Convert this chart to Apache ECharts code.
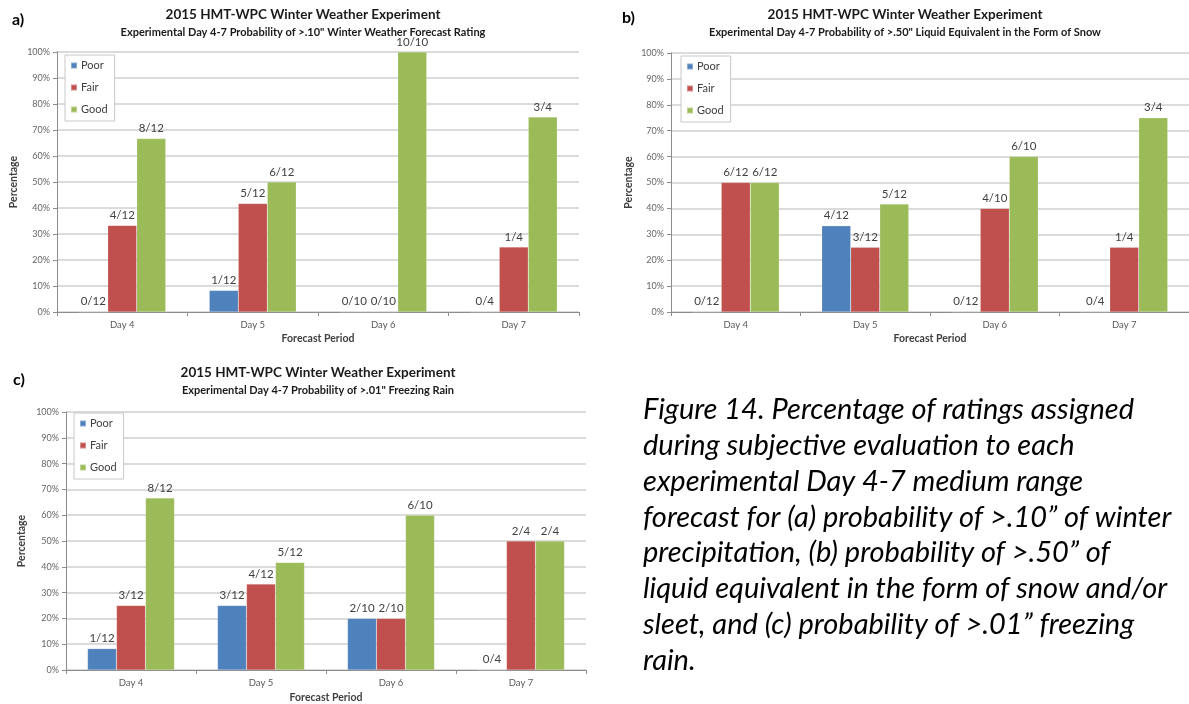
<!DOCTYPE html>
<html><head><meta charset="utf-8">
<script src="https://cdn.jsdelivr.net/npm/echarts@6/dist/echarts.min.js"></script>
<style>html,body{margin:0;padding:0;background:#fff}#c{width:1189px;height:704px}</style>
</head><body><div id="c"></div>
<script>
// ---- data ----
const categories = ['Day 4', 'Day 5', 'Day 6', 'Day 7'];
const seriesNames = ['Poor', 'Fair', 'Good'];

// panel a: >.10" winter weather
const aPoor = [0, 8.3, 0, 0];
const aFair = [33.3, 41.7, 0, 25];
const aGood = [66.7, 50, 100, 75];
const aPoorLbl = ['0/12', '1/12', '0/10', '0/4'];
const aFairLbl = ['4/12', '5/12', '0/10', '1/4'];
const aGoodLbl = ['8/12', '6/12', '10/10', '3/4'];

// panel b: >.50" liquid equivalent snow
const bPoor = [0, 33.3, 0, 0];
const bFair = [50, 25, 40, 25];
const bGood = [50, 41.7, 60, 75];
const bPoorLbl = ['0/12', '4/12', '0/12', '0/4'];
const bFairLbl = ['6/12', '3/12', '4/10', '1/4'];
const bGoodLbl = ['6/12', '5/12', '6/10', '3/4'];

// panel c: >.01" freezing rain
const cPoor = [8.3, 25, 20, 0];
const cFair = [25, 33.3, 20, 50];
const cGood = [66.7, 41.7, 60, 50];
const cPoorLbl = ['1/12', '3/12', '2/10', '0/4'];
const cFairLbl = ['3/12', '4/12', '2/10', '2/4'];
const cGoodLbl = ['8/12', '5/12', '6/10', '2/4'];

const mainTitle = '2015 HMT-WPC Winter Weather Experiment';
const subTitles = [
  'Experimental Day 4-7 Probability of >.10" Winter Weather Forecast Rating',
  'Experimental Day 4-7 Probability of >.50" Liquid Equivalent in the Form of Snow',
  'Experimental Day 4-7 Probability of >.01" Freezing Rain'
];
const panelTags = ['a)', 'b)', 'c)'];
const xName = 'Forecast Period';
const yName = 'Percentage';
const captionLines = [
  'Figure 14. Percentage of ratings assigned',
  'during subjective evaluation to each',
  'experimental Day 4-7 medium range',
  'forecast for (a) probability of >.10\u201d of winter',
  'precipitation, (b) probability of >.50\u201d of',
  'liquid equivalent in the form of snow and/or',
  'sleet, and (c) probability of >.01\u201d freezing',
  'rain.'
];

// ---- styling ----
const FONT = 'Lato';
const COLORS = ['#4F81BD', '#C0504D', '#9BBB59'];
const grids = [
  {left: 57, top: 52, width: 522, height: 260},
  {left: 671, top: 53, width: 524, height: 259},
  {left: 66, top: 412, width: 520, height: 258}
];
const yNameGaps = [38, 37, 39];
const xNameGaps = [21, 21, 22];
const legendPos = [{left: 65, top: 55}, {left: 681, top: 56}, {left: 74, top: 413}];
const titlePos = [{x: 303, y: 15}, {x: 905, y: 15}, {x: 318, y: 373}];
const tagPos = [{x: 12, y: 20}, {x: 622, y: 18}, {x: 13, y: 380}];

const panelData = [
  [[aPoor, aPoorLbl], [aFair, aFairLbl], [aGood, aGoodLbl]],
  [[bPoor, bPoorLbl], [bFair, bFairLbl], [bGood, bGoodLbl]],
  [[cPoor, cPoorLbl], [cFair, cFairLbl], [cGood, cGoodLbl]]
];

const xAxes = [], yAxes = [], series = [], legends = [], graphics = [];
grids.forEach((g, i) => {
  xAxes.push({
    type: 'category', gridIndex: i, data: categories,
    name: xName, nameLocation: 'middle', nameGap: xNameGaps[i],
    nameTextStyle: {fontFamily: FONT, fontWeight: 'bold', fontSize: 10.5, color: '#404040'},
    axisLine: {lineStyle: {color: '#8c8c8c', width: 1}},
    axisTick: {show: true, length: 4, lineStyle: {color: '#8c8c8c'}},
    axisLabel: {fontFamily: FONT, fontSize: 9.5, color: '#595959', margin: 8},
    splitLine: {show: false}
  });
  yAxes.push({
    type: 'value', gridIndex: i, min: 0, max: 100, interval: 10,
    name: yName, nameLocation: 'middle', nameGap: yNameGaps[i], nameRotate: 90,
    nameTextStyle: {fontFamily: FONT, fontWeight: 'bold', fontSize: 10.5, color: '#404040'},
    axisLine: {show: true, lineStyle: {color: '#8c8c8c', width: 1}},
    axisTick: {show: true, length: 4, lineStyle: {color: '#8c8c8c'}},
    axisLabel: {fontFamily: FONT, fontSize: 9, color: '#666666', margin: 7, formatter: '{value}%'},
    splitLine: {show: true, lineStyle: {color: '#cfcfcf', width: 1.5}}
  });
  panelData[i].forEach((pair, k) => {
    const vals = pair[0], lbls = pair[1];
    series.push({
      type: 'bar', name: seriesNames[k], xAxisIndex: i, yAxisIndex: i,
      data: vals, barWidth: 29, barGap: '0%',
      itemStyle: {color: COLORS[k], borderColor: 'rgba(255,255,255,0.35)', borderWidth: 0.5},
      label: {
        show: true, position: 'top', distance: 4,
        fontFamily: FONT, fontSize: 11.5, color: '#404040',
        formatter: p => lbls[p.dataIndex]
      },
      emphasis: {disabled: true}
    });
  });
  legends.push({
    orient: 'vertical', left: legendPos[i].left, top: legendPos[i].top,
    data: seriesNames, icon: 'rect', itemWidth: 6, itemHeight: 6, itemGap: 11,
    backgroundColor: '#fff', borderColor: '#c8c8c8', borderWidth: 1, padding: [5, 7, 6, 5],
    textStyle: {fontFamily: FONT, fontSize: 11, color: '#404040', padding: [0, 0, 0, -1]},
    selectedMode: false
  });
  graphics.push({
    type: 'text', x: titlePos[i].x, y: titlePos[i].y,
    style: {text: mainTitle, fontFamily: FONT, fontWeight: 'bold', fontSize: 13.5, fill: '#1a1a1a',
      textAlign: 'center', textVerticalAlign: 'middle'}
  });
  graphics.push({
    type: 'text', x: titlePos[i].x, y: titlePos[i].y + 17,
    style: {text: subTitles[i], fontFamily: FONT, fontWeight: 'bold', fontSize: 11, fill: '#1a1a1a',
      textAlign: 'center', textVerticalAlign: 'middle'}
  });
  graphics.push({
    type: 'text', x: tagPos[i].x, y: tagPos[i].y,
    style: {text: panelTags[i], fontFamily: FONT, fontWeight: 'bold', fontSize: 16, fill: '#000',
      textAlign: 'left', textVerticalAlign: 'middle'}
  });
});

graphics.push({
  type: 'text', x: 643, y: 392,
  style: {text: captionLines.join('\n'), fontFamily: FONT, fontStyle: 'italic', fontSize: 29,
    lineHeight: 35.8, fill: '#000', textAlign: 'left', textVerticalAlign: 'top'}
});

const chart = echarts.init(document.getElementById('c'), null, {renderer: 'canvas'});
chart.setOption({
  animation: false,
  backgroundColor: '#ffffff',
  grid: grids.map(g => Object.assign({containLabel: false}, g)),
  xAxis: xAxes,
  yAxis: yAxes,
  legend: legends,
  series: series,
  graphic: graphics
});
</script>
</body></html>
